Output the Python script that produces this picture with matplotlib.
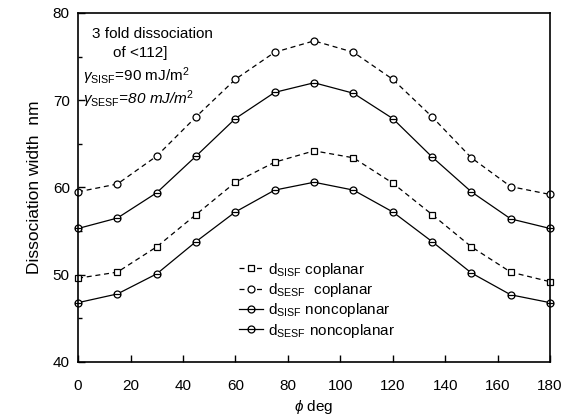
import matplotlib
matplotlib.use("Agg")
import matplotlib.pyplot as plt
import numpy as np
from matplotlib.path import Path

plt.rcParams['font.family'] = ['Liberation Sans', 'DejaVu Sans']
plt.rcParams['mathtext.fontset'] = 'custom'
plt.rcParams['mathtext.rm'] = 'Liberation Sans'
plt.rcParams['mathtext.it'] = 'Liberation Sans:italic'

# rotation angle phi (deg)
phi = [0, 15, 30, 45, 60, 75, 90, 105, 120, 135, 150, 165, 180]

# dissociation widths (nm)
d_sisf_co = [49.6, 50.3, 53.2, 56.9, 60.6, 62.9, 64.2, 63.4, 60.5, 56.9, 53.2, 50.3, 49.2]
d_sesf_co = [59.5, 60.4, 63.6, 68.1, 72.4, 75.5, 76.8, 75.5, 72.4, 68.1, 63.4, 60.1, 59.2]
d_sisf_nonco = [46.8, 47.8, 50.1, 53.8, 57.2, 59.7, 60.6, 59.7, 57.2, 53.8, 50.2, 47.7, 46.8]
d_sesf_nonco = [55.3, 56.5, 59.4, 63.6, 67.9, 70.9, 72.0, 70.8, 67.9, 63.5, 59.5, 56.4, 55.3]

labels = [r'd$_{\rm SISF}$ coplanar', r'd$_{\rm SESF}$  coplanar',
          r'd$_{\rm SISF}$ noncoplanar', r'd$_{\rm SESF}$ noncoplanar']

# circle with a horizontal bar through it
theta_mark = Path.make_compound_path(Path.unit_circle(),
                                     Path([[-1.0, 0.0], [1.0, 0.0]]))

fig = plt.figure(figsize=(5.7, 4.18), dpi=100)
ax = fig.add_axes([0.137, 0.134, 0.828, 0.835])

kw = dict(color='black', lw=0.9, mfc='white', mec='black', mew=0.9,
          ms=5, clip_on=False)
ax.plot(phi, d_sisf_co, ls=(0, (4, 3)), marker='s', label=labels[0], **kw)
ax.plot(phi, d_sesf_co, ls=(0, (4, 3)), marker='o', label=labels[1], **kw)
ax.plot(phi, d_sisf_nonco, ls='-', marker=theta_mark, label=labels[2], **kw)
ax.plot(phi, d_sesf_nonco, ls='-', marker=theta_mark, label=labels[3], **kw)

ax.set_xlim(0, 180)
ax.set_ylim(40, 80)
ax.set_xticks(np.arange(0, 181, 20))
ax.set_yticks(np.arange(40, 81, 10))
ax.set_yticks(np.arange(45, 80, 10), minor=True)
ax.tick_params(which='both', direction='in', labelsize=11, width=1.0)
ax.tick_params(which='major', length=5, pad=6)
ax.tick_params(axis='x', which='major', pad=12)
ax.tick_params(which='minor', length=3)
for s in ax.spines.values():
    s.set_linewidth(1.2)

ax.set_xlabel(r'$\phi$ deg', fontsize=11, labelpad=4)
ax.set_ylabel('Dissociation width  nm', fontsize=12.5, labelpad=8)

ax.text(0.03, 0.96, '3 fold dissociation', transform=ax.transAxes,
        fontsize=11, va='top', ha='left')
ax.text(0.075, 0.905, 'of <112]', transform=ax.transAxes,
        fontsize=11, va='top', ha='left')
ax.text(0.01, 0.85, r'$\gamma_{\rm SISF}$=90 mJ/m$^2$', transform=ax.transAxes,
        fontsize=11, va='top', ha='left')
ax.text(0.01, 0.785, r'$\gamma_{\rm SESF}$=80 mJ/m$^2$', transform=ax.transAxes,
        fontsize=11, va='top', ha='left', style='italic')

ax.legend(loc='upper left', bbox_to_anchor=(0.34, 0.29), frameon=False,
          fontsize=11, handlelength=1.6, handletextpad=0.3,
          labelspacing=0.15, borderpad=0, borderaxespad=0)

fig.savefig('out.png', dpi=100)
